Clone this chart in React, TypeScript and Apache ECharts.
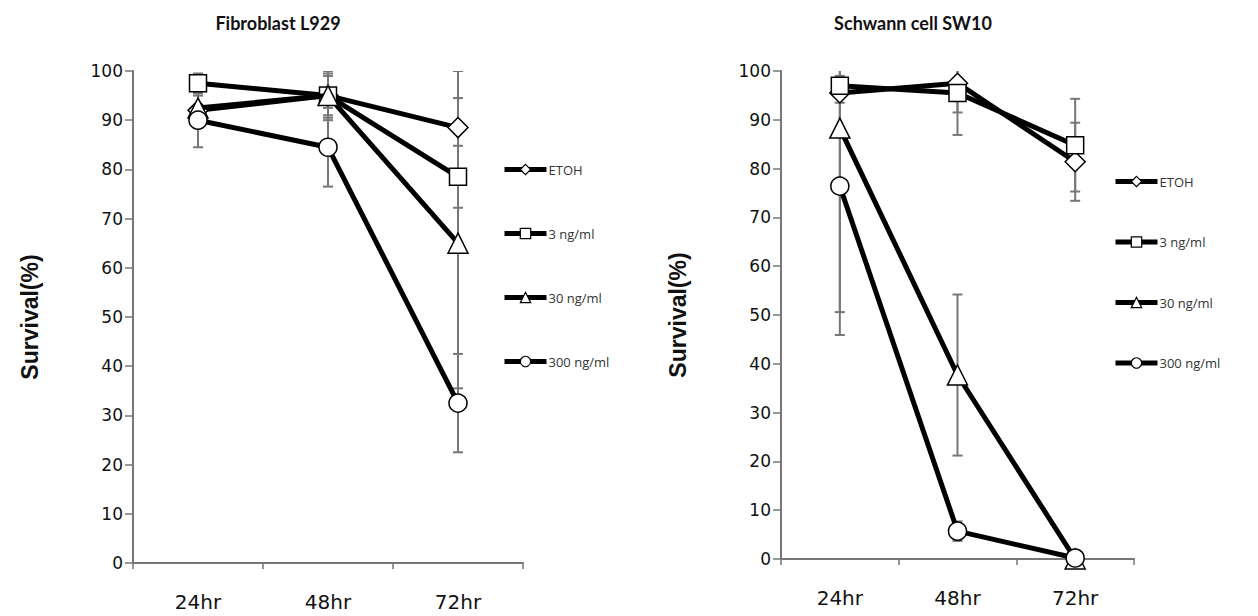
import React, { useEffect, useRef } from "react";
import * as echarts from "echarts";

const categories = ["24hr", "48hr", "72hr"];
const seriesNames = ["ETOH", "3 ng/ml", "30 ng/ml", "300 ng/ml"];
const symbols = ["diamond", "rect", "triangle", "circle"];
const symbolSizes = [20, 17, 20, 18];
const yTicks = [0, 10, 20, 30, 40, 50, 60, 70, 80, 90, 100];

// Fibroblast L929
const l929Etoh = [92, 95, 88.5];
const l929Ng3 = [97.5, 95, 78.5];
const l929Ng30 = [92.5, 95, 65];
const l929Ng300 = [90, 84.5, 32.5];
const l929EtohErr = [3, 5, 11.5];
const l929Ng3Err = [2, 4.5, 6.3];
const l929Ng30Err = [3, 4, 29.5];
const l929Ng300Err = [5.5, 8, 10];

// Schwann cell SW10
const sw10Etoh = [95.5, 97.5, 81.4];
const sw10Ng3 = [97, 95.5, 84.8];
const sw10Ng30 = [88.3, 37.7, 0];
const sw10Ng300 = [76.4, 5.7, 0.2];
const sw10EtohErr = [2, 6, 8];
const sw10Ng3Err = [2, 8.6, 9.5];
const sw10Ng30Err = [37.7, 16.5, 0.8];
const sw10Ng300Err = [30.5, 2, 0.5];

const l929Values = [l929Etoh, l929Ng3, l929Ng30, l929Ng300];
const l929Errs = [l929EtohErr, l929Ng3Err, l929Ng30Err, l929Ng300Err];
const sw10Values = [sw10Etoh, sw10Ng3, sw10Ng30, sw10Ng300];
const sw10Errs = [sw10EtohErr, sw10Ng3Err, sw10Ng30Err, sw10Ng300Err];

const FONT = "DejaVu Sans";

function errRender(params: any, api: any) {
  const x = api.value(0);
  const lo = api.value(1);
  const hi = api.value(2);
  const pHi = api.coord([x, hi]);
  const pLo = api.coord([x, lo]);
  const w = 5;
  const st = { stroke: "#777", lineWidth: 2 };
  return {
    type: "group",
    children: [
      { type: "line", shape: { x1: pHi[0], y1: pHi[1], x2: pLo[0], y2: pLo[1] }, style: st },
      { type: "line", shape: { x1: pHi[0] - w, y1: pHi[1], x2: pHi[0] + w, y2: pHi[1] }, style: st },
      { type: "line", shape: { x1: pLo[0] - w, y1: pLo[1], x2: pLo[0] + w, y2: pLo[1] }, style: st },
    ],
  };
}

function buildSeries(values: number[][], errs: number[][], gi: number) {
  const out: any[] = [];
  values.forEach((vals, si) => {
    out.push({
      name: "err" + gi + "-" + si,
      type: "custom",
      xAxisIndex: gi,
      yAxisIndex: gi,
      renderItem: errRender,
      clip: true,
      z: 1,
      encode: { x: 0, y: [1, 2] },
      data: vals.map((v, i) => [i, v - errs[si][i], v + errs[si][i]]),
    });
  });
  values.forEach((vals, si) => {
    out.push({
      name: seriesNames[si],
      type: "line",
      xAxisIndex: gi,
      yAxisIndex: gi,
      symbol: symbols[si],
      symbolSize: symbolSizes[si],
      showAllSymbol: true,
      z: 2 + si,
      lineStyle: { color: "#000", width: 5 },
      itemStyle: { color: "#fff", borderColor: "#000", borderWidth: 1.5 },
      data: vals,
    });
  });
  return out;
}

function axisPair(gi: number, nameGap: number) {
  const x = {
    type: "category",
    gridIndex: gi,
    data: categories,
    boundaryGap: true,
    axisLine: { lineStyle: { color: "#777", width: 2 } },
    axisTick: { show: true, length: 6, lineStyle: { color: "#777", width: 1.5 } },
    axisLabel: { color: "#111", fontSize: 20, fontFamily: FONT, margin: 29 },
  };
  const y = {
    type: "value",
    gridIndex: gi,
    min: 0,
    max: 100,
    interval: 10,
    name: "Survival(%)",
    nameLocation: "middle",
    nameGap,
    nameTextStyle: { color: "#111", fontSize: 23, fontWeight: "bold", fontFamily: "Liberation Sans" },
    axisLine: { show: true, lineStyle: { color: "#777", width: 2 } },
    axisTick: { show: true, length: 8, lineStyle: { color: "#777", width: 1.5 } },
    splitLine: { show: false },
    axisLabel: {
      color: "#111",
      fontSize: 17,
      fontFamily: FONT,
      margin: 10,
      formatter: (v: number) => (yTicks.indexOf(v) >= 0 ? String(v) : ""),
    },
  };
  return { x, y };
}

export default function App() {
  const ref = useRef<HTMLDivElement>(null);
  useEffect(() => {
    if (!ref.current) return;
    const chart = echarts.init(ref.current, null, { renderer: "svg" });
    const a0 = axisPair(0, 92);
    const a1 = axisPair(1, 92);
    const legendBase = {
      orient: "vertical",
      itemWidth: 42,
      itemHeight: 13,
      lineStyle: { width: 5, color: "#000" },
      itemStyle: { color: "#fff", borderColor: "#000", borderWidth: 1.2 },
      textStyle: { color: "#333", fontSize: 13, fontFamily: "Open Sans", padding: [0, 0, 0, -3] },
      data: seriesNames,
      selectedMode: false,
    };
    chart.setOption({
      animation: false,
      backgroundColor: "#fff",
      title: [
        {
          text: "Fibroblast L929",
          left: 273,
          top: 9,
          textAlign: "center",
          textStyle: { fontFamily: "Lato", fontWeight: "bold", fontSize: 18, color: "#111" },
        },
        {
          text: "Schwann cell SW10",
          left: 908,
          top: 9,
          textAlign: "center",
          textStyle: { fontFamily: "Lato", fontWeight: "bold", fontSize: 18, color: "#111" },
        },
      ],
      legend: [
        { ...legendBase, left: 497, top: 158, itemGap: 51 },
        { ...legendBase, left: 1108, top: 170, itemGap: 47.5 },
      ],
      grid: [
        { left: 133, top: 71, width: 390, height: 492 },
        { left: 781, top: 71, width: 353, height: 488 },
      ],
      xAxis: [a0.x, a1.x],
      yAxis: [a0.y, a1.y],
      series: [...buildSeries(l929Values, l929Errs, 0), ...buildSeries(sw10Values, sw10Errs, 1)],
    });
    return () => chart.dispose();
  }, []);
  return (
    <div
      ref={ref}
      style={{ position: "fixed", left: 0, top: 0, width: 1258, height: 616, background: "#fff" }}
    />
  );
}
